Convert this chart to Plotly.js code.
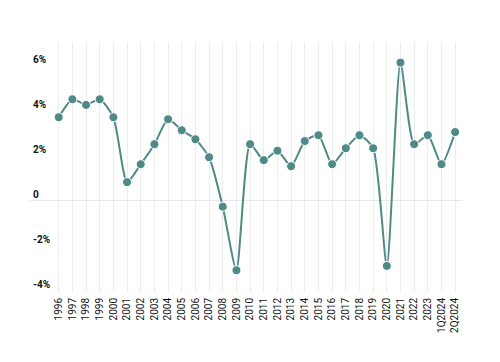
<!DOCTYPE html>
<html>
<head>
<meta charset="utf-8">
<script src="https://cdn.plot.ly/plotly-3.0.1.min.js"></script>
<style>html,body{margin:0;padding:0;background:#fff;}#chart{width:500px;height:362px;}</style>
</head>
<body>
<div id="chart"></div>
<script>
const categories = ["1996","1997","1998","1999","2000","2001","2002","2003","2004","2005","2006","2007","2008","2009","2010","2011","2012","2013","2014","2015","2016","2017","2018","2019","2020","2021","2022","2023","1Q2024","2Q2024"];
const growth = [3.70,4.50,4.25,4.50,3.70,0.81,1.61,2.50,3.61,3.12,2.72,1.92,-0.28,-3.11,2.50,1.79,2.21,1.52,2.64,2.90,1.61,2.32,2.90,2.32,-2.92,6.13,2.50,2.90,1.61,3.04];
const yTickVals = [-4,-2,0,2,4,6];
const yTickText = ["-4%","-2%","0","2%","4%","6%"];

const trace = {
  x: categories.map((c,i)=>i),
  y: growth,
  type: 'scatter',
  mode: 'lines+markers',
  line: {color: '#4f8a87', width: 2, shape: 'spline', smoothing: 0.6},
  marker: {color: '#4f8a87', size: 9, line: {color: '#ffffff', width: 1}},
  cliponaxis: false,
  hoverinfo: 'skip'
};

const layout = {
  width: 500, height: 362,
  margin: {l: 30, r: 38, t: 42, b: 70},
  paper_bgcolor: '#ffffff', plot_bgcolor: '#ffffff',
  showlegend: false,
  font: {family: 'Roboto, Arial, sans-serif', size: 10, color: '#000'},
  xaxis: {
    range: [-2.1, 29.5],
    tickmode: 'array',
    tickvals: categories.map((c,i)=>i),
    ticktext: categories,
    tickangle: -90,
    showgrid: true, gridcolor: '#ececec', gridwidth: 1,
    zeroline: false, showline: false, ticks: '',
    ticklabelstandoff: 3,
    tickfont: {size: 10, color: '#111'}
  },
  yaxis: {
    range: [-4.08, 7.05],
    tickmode: 'array',
    tickvals: yTickVals,
    ticktext: yTickText,
    showgrid: false,
    zeroline: true, zerolinecolor: '#e8e8e8', zerolinewidth: 1,
    showline: false, ticks: '',
    ticklabelposition: 'inside',
    ticklabelshift: -6,
    ticklabelstandoff: 0,
    tickfont: {size: 10, color: '#111', weight: 'bold'}
  }
};

Plotly.newPlot('chart', [trace], layout, {staticPlot: true, displayModeBar: false});
</script>
</body>
</html>
